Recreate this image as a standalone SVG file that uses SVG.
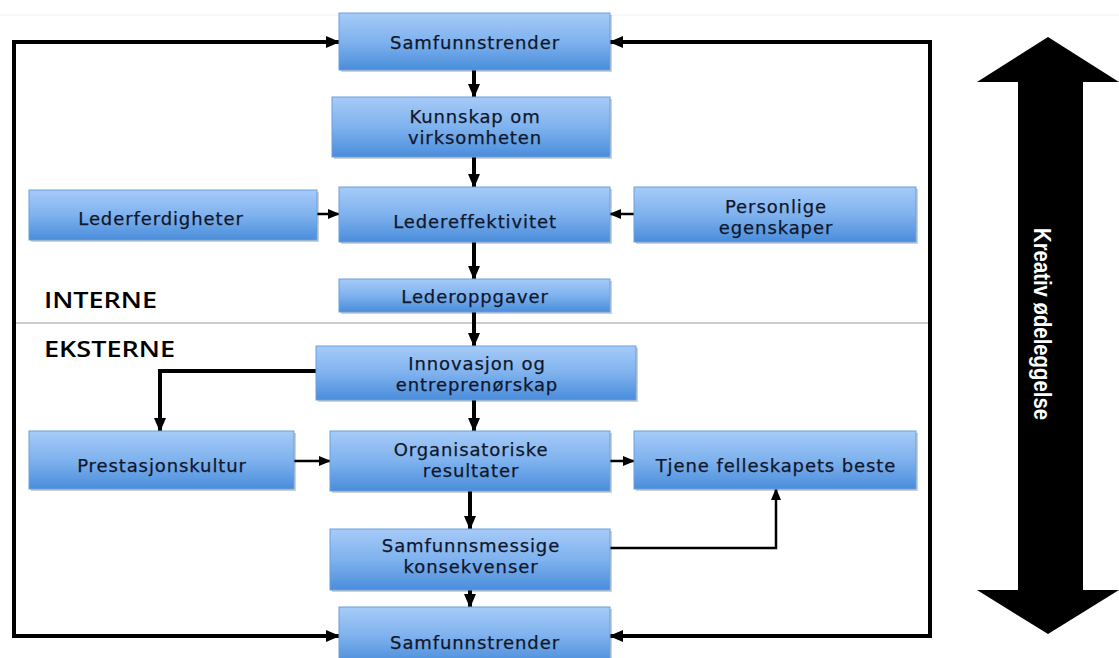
<svg xmlns="http://www.w3.org/2000/svg" width="1119" height="658" viewBox="0 0 1119 658">
<style>
.box{fill:url(#g);stroke:#6b9fdb;stroke-width:1}
.sh{fill:#000;opacity:0.18}
.t{font-family:"DejaVu Sans","Open Sans",sans-serif;font-size:18px;letter-spacing:0.9px;fill:#10172b;stroke:#10172b;stroke-width:0.25;text-anchor:middle}
.lab{font-family:"Open Sans","Liberation Sans",sans-serif;font-size:21px;font-weight:600;fill:#000}
.thick{fill:none;stroke:#000;stroke-width:4}
.thin{fill:none;stroke:#000;stroke-width:2.5}
</style>
<defs>
<linearGradient id="g" x1="0" y1="0" x2="0" y2="1">
<stop offset="0" stop-color="#a6cbf8"/>
<stop offset="0.5" stop-color="#7fb2ee"/>
<stop offset="1" stop-color="#4a8ddb"/>
</linearGradient>
<marker id="ah" markerUnits="userSpaceOnUse" markerWidth="14" markerHeight="14" viewBox="0 0 14 14" refX="13" refY="7" orient="auto">
<path d="M0,1 L14,7 L0,13 Z" fill="#000"/>
</marker>
<marker id="ahs" markerUnits="userSpaceOnUse" markerWidth="14" markerHeight="14" viewBox="0 0 14 14" refX="13" refY="7" orient="auto-start-reverse">
<path d="M0,1 L14,7 L0,13 Z" fill="#000"/>
</marker>
<marker id="as" markerUnits="userSpaceOnUse" markerWidth="12" markerHeight="12" viewBox="0 0 12 12" refX="11" refY="6" orient="auto">
<path d="M0,1 L12,6 L0,11 Z" fill="#000"/>
</marker>
</defs>
<rect width="1119" height="658" fill="#fff"/>
<line x1="0" y1="15" x2="1119" y2="15" stroke="#f2f2f2" stroke-width="1"/>
<line x1="14" y1="323" x2="930" y2="323" stroke="#9a9a9a" stroke-width="1.2"/>
<text class="lab" x="44" y="308" textLength="113" lengthAdjust="spacingAndGlyphs">INTERNE</text>
<text class="lab" x="44" y="357" textLength="131" lengthAdjust="spacingAndGlyphs">EKSTERNE</text>

<g id="connectors">
<polyline class="thick" points="339,636 14,636 14,42 339,42" marker-start="url(#ahs)" marker-end="url(#ahs)"/>
<polyline class="thick" points="610,636 930,636 930,42 610,42" marker-start="url(#ahs)" marker-end="url(#ahs)"/>
<line class="thick" x1="474" y1="70" x2="474" y2="97" marker-end="url(#ah)"/>
<line class="thick" x1="474" y1="157" x2="474" y2="187" marker-end="url(#ah)"/>
<line class="thick" x1="474" y1="242" x2="474" y2="279" marker-end="url(#ah)"/>
<line class="thick" x1="474" y1="312" x2="474" y2="346" marker-end="url(#ah)"/>
<line class="thick" x1="474" y1="400" x2="474" y2="431" marker-end="url(#ah)"/>
<line class="thick" x1="470" y1="491" x2="470" y2="529" marker-end="url(#ah)"/>
<line class="thick" x1="470" y1="590" x2="470" y2="607" marker-end="url(#ah)"/>
<line class="thin" x1="317" y1="214" x2="339" y2="214" marker-end="url(#as)"/>
<line class="thin" x1="634" y1="214" x2="610" y2="214" marker-end="url(#as)"/>
<polyline class="thick" points="316,371 160,371 160,431" marker-end="url(#ah)"/>
<line class="thin" x1="294" y1="461" x2="330" y2="461" marker-end="url(#as)"/>
<line class="thin" x1="610" y1="461" x2="634" y2="461" marker-end="url(#as)"/>
<polyline class="thin" points="610,548 776,548 776,489" marker-end="url(#as)"/>
</g>

<g id="n-samf-top"><rect class="sh" x="341" y="15" width="271" height="57"/><rect class="box" x="339" y="13" width="271" height="57"/><text class="t" x="475" y="49">Samfunnstrender</text></g>
<g id="n-kunnskap"><rect class="sh" x="334" y="99" width="278" height="60"/><rect class="box" x="332" y="97" width="278" height="60"/><text class="t" x="475" y="123">Kunnskap om</text><text class="t" x="475" y="144">virksomheten</text></g>
<g id="n-lederferd"><rect class="sh" x="31" y="192" width="288" height="50"/><rect class="box" x="29" y="190" width="288" height="50"/><text class="t" x="161" y="225">Lederferdigheter</text></g>
<g id="n-ledereff"><rect class="sh" x="341" y="189" width="271" height="55"/><rect class="box" x="339" y="187" width="271" height="55"/><text class="t" x="475" y="228">Ledereffektivitet</text></g>
<g id="n-personlige"><rect class="sh" x="636" y="189" width="282" height="55"/><rect class="box" x="634" y="187" width="282" height="55"/><text class="t" x="776" y="213">Personlige</text><text class="t" x="776" y="234">egenskaper</text></g>
<g id="n-lederoppg"><rect class="sh" x="341" y="281" width="271" height="33"/><rect class="box" x="339" y="279" width="271" height="33"/><text class="t" x="475" y="303">Lederoppgaver</text></g>
<g id="n-innovasjon"><rect class="sh" x="318" y="348" width="320" height="54"/><rect class="box" x="316" y="346" width="320" height="54"/><text class="t" x="477" y="370">Innovasjon og</text><text class="t" x="477" y="391">entreprenørskap</text></g>
<g id="n-prestasjon"><rect class="sh" x="31" y="433" width="265" height="58"/><rect class="box" x="29" y="431" width="265" height="58"/><text class="t" x="162" y="472">Prestasjonskultur</text></g>
<g id="n-org"><rect class="sh" x="332" y="433" width="280" height="60"/><rect class="box" x="330" y="431" width="280" height="60"/><text class="t" x="471" y="456">Organisatoriske</text><text class="t" x="471" y="477">resultater</text></g>
<g id="n-tjene"><rect class="sh" x="636" y="433" width="282" height="58"/><rect class="box" x="634" y="431" width="282" height="58"/><text class="t" x="776" y="472">Tjene felleskapets beste</text></g>
<g id="n-samfmess"><rect class="sh" x="332" y="531" width="280" height="61"/><rect class="box" x="330" y="529" width="280" height="61"/><text class="t" x="471" y="552">Samfunnsmessige</text><text class="t" x="471" y="573">konsekvenser</text></g>
<g id="n-samf-bot"><rect class="sh" x="341" y="609" width="271" height="57"/><rect class="box" x="339" y="607" width="271" height="57"/><text class="t" x="475" y="649">Samfunnstrender</text></g>

<g id="n-kreativ">
<polygon points="1048,37 1119,82 1083,82 1083,590 1119,590 1048,634 977,590 1018,590 1018,82 977,82" fill="#000"/>
<text transform="translate(1042,324) rotate(90)" x="0" y="0" font-family="'Liberation Sans',sans-serif" font-weight="bold" font-size="24" fill="#fff" text-anchor="middle" textLength="192" lengthAdjust="spacingAndGlyphs" dominant-baseline="central">Kreativ ødeleggelse</text>
</g>
</svg>
